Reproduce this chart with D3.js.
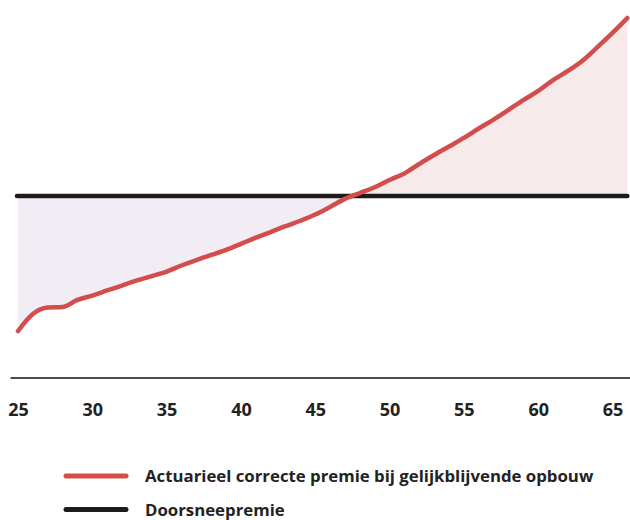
<!DOCTYPE html>
<html>
<head>
<meta charset="utf-8">
<script src="https://cdn.jsdelivr.net/npm/d3@7"></script>
<style>
  html, body { margin: 0; padding: 0; background: #ffffff; }
  svg { display: block; }
  text { font-family: "Open Sans", "DejaVu Sans", sans-serif; font-weight: 700; fill: #222222; }
</style>
</head>
<body>
<svg id="chart" width="630" height="520"></svg>
<script>
// Age in years
const ages = [25,26,27,28,29,30,31,32,33,34,35,36,37,38,39,40,41,42,43,44,45,
              46,47,48,49,50,51,52,53,54,55,56,57,58,59,60,61,62,63,64,65,66];
// Actuarially fair premium with a level accrual (index, average premium = 100)
const actuarialPremium = [25.8,35.2,38.7,39.0,42.9,45.3,48.1,50.8,53.6,56.0,58.5,
                          61.8,64.8,67.6,70.4,73.7,77.1,80.2,83.4,86.4,89.8,
                          94.0,98.4,101.6,104.8,108.8,112.4,117.6,122.5,127.2,131.9,
                          137.1,142.0,147.3,152.7,157.7,163.7,168.7,174.5,181.9,189.6,197.8];
// Uniform average premium
const averagePremium = 100;
const tickAges = [25,30,35,40,45,50,55,60,65];
const legendLabels = ["Actuarieel correcte premie bij gelijkblijvende opbouw", "Doorsneepremie"];

const svg = d3.select("#chart");
const W = 630;

const x = d3.scaleLinear().domain([25, 65]).range([18, 612.5]);
const y = d3.scaleLinear().domain([0, 200]).range([378, 14]);

const data = ages.map((a, i) => ({ age: a, v: actuarialPremium[i] }));
const curve = d3.curveMonotoneX;

// Clip regions above / below the average premium line
const defs = svg.append("defs");
defs.append("clipPath").attr("id", "clip-below")
  .append("rect").attr("x", 0).attr("y", y(averagePremium)).attr("width", W).attr("height", 520);
defs.append("clipPath").attr("id", "clip-above")
  .append("rect").attr("x", 0).attr("y", 0).attr("width", W).attr("height", y(averagePremium));

const band = d3.area()
  .x(d => x(d.age))
  .y0(y(averagePremium))
  .y1(d => y(d.v))
  .curve(curve);

svg.append("path").datum(data)
  .attr("d", band)
  .attr("fill", "#f2edf5")
  .attr("clip-path", "url(#clip-below)");
svg.append("path").datum(data)
  .attr("d", band)
  .attr("fill", "#f6eaea")
  .attr("clip-path", "url(#clip-above)");

// Baseline of the x axis
svg.append("line")
  .attr("x1", x(24.5)).attr("x2", W)
  .attr("y1", 378).attr("y2", 378)
  .attr("stroke", "#4a4a4a").attr("stroke-width", 2);

// Tick labels
const axis = d3.axisBottom(x).tickValues(tickAges).tickSize(0).tickPadding(0).tickFormat(d3.format("d"));
const gAxis = svg.append("g").attr("transform", "translate(0,409.5)").call(axis);
gAxis.select(".domain").remove();
gAxis.selectAll("text")
  .attr("dy", "0.36em")
  .style("font-size", "18px")
  .style("font-family", "'Open Sans', 'DejaVu Sans', sans-serif")
  .style("font-weight", "700")
  .attr("fill", "#222222");

// Average premium line
svg.append("line")
  .attr("x1", x(ages[0]) - 1).attr("x2", x(ages[ages.length - 1]))
  .attr("y1", y(averagePremium)).attr("y2", y(averagePremium))
  .attr("stroke", "#1c1c1c").attr("stroke-width", 4.5).attr("stroke-linecap", "round");

// Actuarial premium curve
svg.append("path").datum(data)
  .attr("d", d3.line().x(d => x(d.age)).y(d => y(d.v)).curve(curve))
  .attr("fill", "none")
  .attr("stroke", "#d24d4b")
  .attr("stroke-width", 4.5)
  .attr("stroke-linecap", "round")
  .attr("stroke-linejoin", "round");

// Legend
const legendColors = ["#d24d4b", "#1c1c1c"];
const legendY = [476, 509.5];
const lg = svg.append("g");
legendLabels.forEach((label, i) => {
  lg.append("line")
    .attr("x1", 66).attr("x2", 126)
    .attr("y1", legendY[i]).attr("y2", legendY[i])
    .attr("stroke", legendColors[i]).attr("stroke-width", 5).attr("stroke-linecap", "round");
  lg.append("text")
    .attr("x", 145).attr("y", legendY[i] + 6)
    .style("font-size", "16.8px")
    .text(label);
});
</script>
</body>
</html>
